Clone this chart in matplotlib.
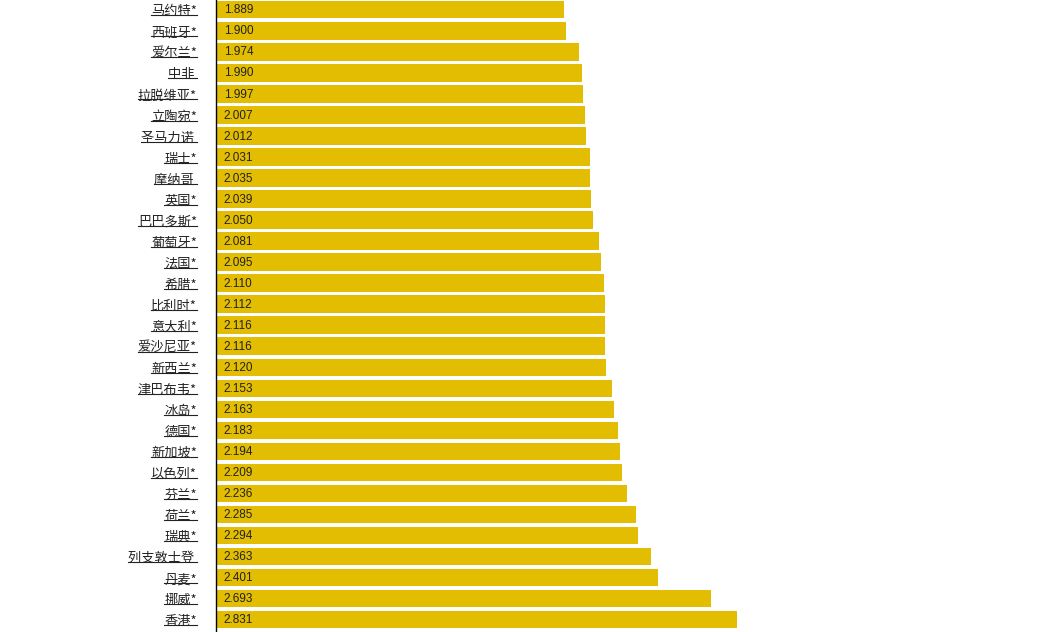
import matplotlib
matplotlib.use("Agg")
import matplotlib.pyplot as plt
from matplotlib.lines import Line2D

plt.rcParams['font.family'] = ['Noto Sans CJK SC', 'DejaVu Sans']

# 国家/地区 与 数值
labels = ["马约特*", "西班牙*", "爱尔兰*", "中非 ", "拉脱维亚*", "立陶宛*", "圣马力诺 ",
          "瑞士*", "摩纳哥 ", "英国*", "巴巴多斯*", "葡萄牙*", "法国*", "希腊*",
          "比利时*", "意大利*", "爱沙尼亚*", "新西兰*", "津巴布韦*", "冰岛*", "德国*",
          "新加坡*", "以色列*", "芬兰*", "荷兰*", "瑞典*", "列支敦士登 ", "丹麦*",
          "挪威*", "香港*"]
values = [1.889, 1.900, 1.974, 1.990, 1.997, 2.007, 2.012, 2.031, 2.035, 2.039,
          2.050, 2.081, 2.095, 2.110, 2.112, 2.116, 2.116, 2.120, 2.153, 2.163,
          2.183, 2.194, 2.209, 2.236, 2.285, 2.294, 2.363, 2.401, 2.693, 2.831]

W, H = 1037, 632
fig = plt.figure(figsize=(W / 100, H / 100), dpi=100)
ax = fig.add_axes([216 / W, 0, 1 - 216 / W, 1])

ypos = list(range(len(values)))
ax.barh(ypos, values, height=0.83, color='#E2BD02', left=0.004)
ax.set_ylim(29.59, -0.464)
ax.set_xlim(0, (W - 216) / 183.65)

for s in ['top', 'right', 'bottom']:
    ax.spines[s].set_visible(False)
ax.spines['left'].set_color('black')
ax.spines['left'].set_linewidth(1.0)
ax.set_xticks([])
ax.set_yticks([])

for y, v in zip(ypos, values):
    ax.text(0.043, y + 0.03, f"{v:.3f}", va='center', ha='left', fontsize=8.5,
            family=['Liberation Sans', 'DejaVu Sans'], color='#222222')

texts = []
for y, lab in zip(ypos, labels):
    t = ax.text(-19 / 183.65, y + 0.1, lab, va='center', ha='right', fontsize=9.5,
                color='#222222')
    texts.append(t)

fig.canvas.draw()
r = fig.canvas.get_renderer()
for t in texts:
    bb = t.get_window_extent(renderer=r)
    yl = (bb.y0 + 3) / H
    fig.add_artist(Line2D([bb.x0 / W, bb.x1 / W], [yl, yl], color='#222222',
                          linewidth=0.8))

fig.savefig("out.png", dpi=100)
